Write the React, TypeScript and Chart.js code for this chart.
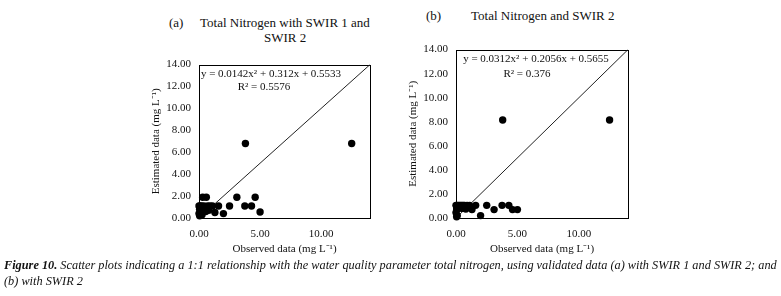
import { useEffect, useRef } from "react";
import { Chart, registerables } from "chart.js";

Chart.register(...registerables);

// ---- data ----
const observed = [
  12.5, 3.8, 0.3, 0.6, 3.1, 4.6, 1.6, 2.5, 3.75, 4.3, 1.3, 2.0, 5.0,
  0.0, 0.1, 0.2, 0.4, 0.5, 0.7, 0.9, 1.1, 0.05, 0.15, 0.3, 0.55, 0.8, 0.0, 0.1, 0.05, 0.25,
];
const estimatedA = [
  6.8, 6.8, 1.9, 1.9, 1.9, 1.9, 1.1, 1.1, 1.1, 1.1, 0.5, 0.4, 0.55,
  1.1, 1.1, 1.1, 1.1, 1.0, 1.1, 1.1, 1.1, 0.8, 0.7, 0.8, 0.6, 0.7, 0.4, 0.5, 0.2, 0.3,
];
const estimatedB = [
  8.15, 8.15, 1.05, 1.05, 0.7, 0.7, 1.05, 1.05, 1.05, 1.05, 0.7, 0.2, 0.7,
  1.05, 1.05, 1.05, 1.05, 1.05, 1.05, 1.05, 1.05, 0.75, 0.75, 0.9, 0.8, 0.75, 0.45, 0.2, 0.1, 0.9,
];
const oneToOne = [0, 14];
const xTicks = [0, 5, 10];
const yTicks = [0, 2, 4, 6, 8, 10, 12, 14];
const axisMax = 14;

const equationA = ["y = 0.0142x\u00B2 + 0.312x + 0.5533", "R\u00B2 = 0.5576"];
const equationB = ["y = 0.0312x\u00B2 + 0.2056x + 0.5655", "R\u00B2 = 0.376"];
const xTitle = "Observed data (mg L\u207B\u00B9)";
const yTitle = "Estimated data (mg L\u207B\u00B9)";

const FONT = '"Liberation Serif", "Times New Roman", serif';

const framePlugin = {
  id: "frameEq",
  beforeDatasetsDraw(chart: any) {
    const { ctx, chartArea: a } = chart;
    ctx.save();
    ctx.strokeStyle = "#000";
    ctx.lineWidth = 1;
    ctx.strokeRect(Math.round(a.left) + 0.5, Math.round(a.top) + 0.5, Math.round(a.right - a.left), Math.round(a.bottom - a.top));
    ctx.restore();
  },
  afterDatasetsDraw(chart: any, _args: any, opts: any) {
    const { ctx, chartArea: a } = chart;
    ctx.save();
    ctx.font = `11px ${FONT}`;
    ctx.fillStyle = "#111";
    ctx.textAlign = "center";
    ctx.textBaseline = "middle";
    ctx.fillText(opts.lines[0], a.left + opts.pos[0], a.top + opts.pos[1]);
    ctx.fillText(opts.lines[1], a.left + opts.pos[2], a.top + opts.pos[3]);
    ctx.restore();
  },
};

type Box = { left: number; top: number; width: number; height: number; pad: { left: number; right: number; top: number; bottom: number } };

function Scatter({ box, est, eq, eqPos }: { box: Box; est: number[]; eq: string[]; eqPos: number[] }) {
  const ref = useRef<HTMLCanvasElement>(null);
  useEffect(() => {
    if (!ref.current) return;
    const pts = observed.map((x, i) => ({ x, y: est[i] }));
    const line = oneToOne.map((v) => ({ x: v, y: v }));
    const chart = new Chart(ref.current, {
      type: "scatter",
      data: {
        datasets: [
          {
            data: pts,
            backgroundColor: "#000",
            borderWidth: 0,
            pointRadius: 3.7,
            clip: 8,
          } as any,
          {
            data: line,
            showLine: true,
            borderColor: "#222",
            borderWidth: 1,
            pointRadius: 0,
          } as any,
        ],
      },
      options: {
        animation: false,
        responsive: false,
        maintainAspectRatio: false,
        layout: { padding: box.pad },
        plugins: {
          legend: { display: false },
          tooltip: { enabled: false },
          frameEq: { lines: eq, pos: eqPos },
        } as any,
        scales: {
          x: {
            type: "linear",
            min: 0,
            max: axisMax,
            grid: { display: false, drawTicks: false },
            border: { display: false },
            afterFit: (s: any) => { s.height = 40; },
            afterBuildTicks: (s: any) => { s.ticks = xTicks.map((v) => ({ value: v })); },
            ticks: {
              padding: 10,
              color: "#111",
              font: { family: FONT, size: 11 },
              callback: (v: any) => Number(v).toFixed(2),
            },
            title: { display: true, text: xTitle, color: "#111", font: { family: FONT, size: 11 }, padding: { top: 0, bottom: 2 } },
          },
          y: {
            type: "linear",
            min: 0,
            max: axisMax,
            grid: { display: false, drawTicks: false },
            border: { display: false },
            afterFit: (s: any) => { s.width = 50; },
            afterBuildTicks: (s: any) => { s.ticks = yTicks.map((v) => ({ value: v })); },
            ticks: {
              padding: 8,
              color: "#111",
              font: { family: FONT, size: 11 },
              callback: (v: any) => Number(v).toFixed(2),
            },
            title: { display: true, text: yTitle, color: "#111", font: { family: FONT, size: 11 }, padding: { top: 1, bottom: 0 } },
          },
        },
      },
      plugins: [framePlugin as any],
    });
    return () => chart.destroy();
  }, []);
  return (
    <canvas
      ref={ref}
      width={box.width}
      height={box.height}
      style={{ position: "absolute", left: box.left, top: box.top, width: box.width, height: box.height }}
    />
  );
}

const boxA: Box = { left: 140, top: 50, width: 240, height: 210, pad: { left: 9, right: 10, top: 11, bottom: 2 } };
const boxB: Box = { left: 397, top: 35, width: 241, height: 225, pad: { left: 9, right: 10, top: 11, bottom: 2 } };

const txt = (extra: any) => ({
  position: "absolute" as const,
  fontFamily: FONT,
  color: "#111",
  whiteSpace: "nowrap" as const,
  lineHeight: "14px",
  ...extra,
});

export default function App() {
  return (
    <div style={{ position: "fixed", left: 0, top: 0, width: 781, height: 296, background: "#fff", overflow: "hidden" }}>
      <div style={txt({ left: 169, top: 16, fontSize: 13 })}>(a)</div>
      <div style={txt({ left: 200, top: 16, fontSize: 13 })}>Total Nitrogen with SWIR 1 and</div>
      <div style={txt({ left: 264, top: 31, fontSize: 13 })}>SWIR 2</div>
      <div style={txt({ left: 426, top: 9, fontSize: 13 })}>(b)</div>
      <div style={txt({ left: 471, top: 9, fontSize: 13 })}>Total Nitrogen and SWIR 2</div>
      <Scatter box={boxA} est={estimatedA} eq={equationA} eqPos={[72, 10, 65, 23]} />
      <Scatter box={boxB} est={estimatedB} eq={equationB} eqPos={[80, 10, 71, 25]} />
      <div style={txt({ left: 4, top: 257, fontSize: 12.3, lineHeight: "16px", fontStyle: "italic", whiteSpace: "normal", width: 777 })}>
        <b>Figure 10.</b> Scatter plots indicating a 1:1 relationship with the water quality parameter total nitrogen, using validated data (a) with SWIR 1 and SWIR 2; and
        <br />
        (b) with SWIR 2
      </div>
    </div>
  );
}
